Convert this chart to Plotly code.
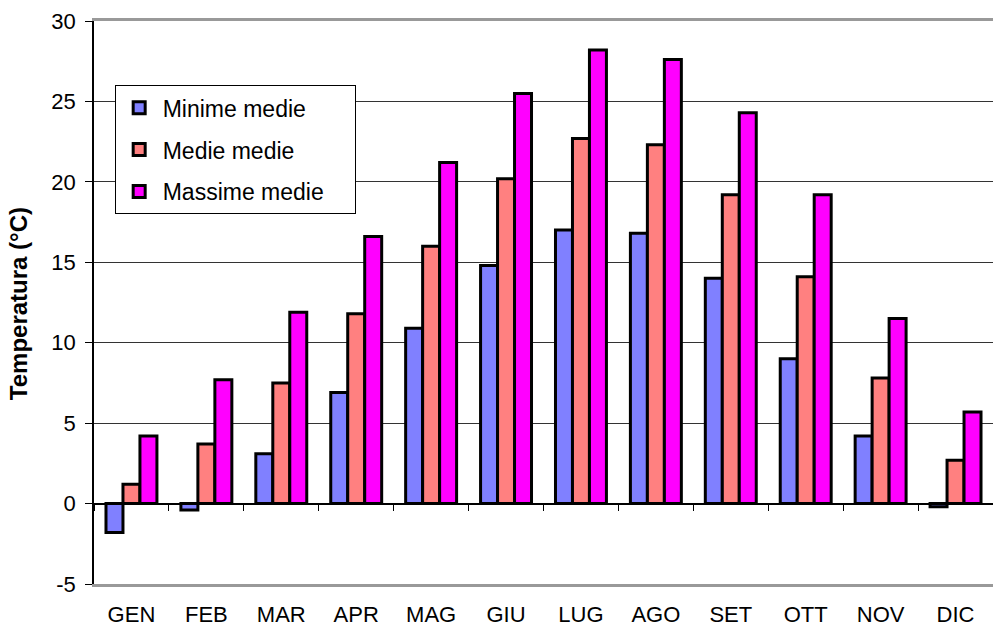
import plotly.graph_objects as go

months = ["GEN", "FEB", "MAR", "APR", "MAG", "GIU", "LUG", "AGO", "SET", "OTT", "NOV", "DIC"]
minime = [-1.8, -0.4, 3.1, 6.9, 10.9, 14.8, 17.0, 16.8, 14.0, 9.0, 4.2, -0.2]
medie = [1.2, 3.7, 7.5, 11.8, 16.0, 20.2, 22.7, 22.3, 19.2, 14.1, 7.8, 2.7]
massime = [4.2, 7.7, 11.9, 16.6, 21.2, 25.5, 28.2, 27.6, 24.3, 19.2, 11.5, 5.7]
series_names = ["Minime medie", "Medie medie", "Massime medie"]
colors = ["#8080FF", "#FF8080", "#FF00FF"]
y_ticks = [-5, 0, 5, 10, 15, 20, 25, 30]
y_tick_labels = ["-5", "0", "5", "10", "15", "20", "25", "30"]
y_range = [-5, 30]
y_title = "Temperatura (°C)"

fig = go.Figure()
for i, (name, vals, col) in enumerate(zip(series_names, [minime, medie, massime], colors)):
    fig.add_trace(go.Bar(
        x=months, y=vals, name=name + "\u00a0" * 4, legendgroup=f"g{i}",
        marker=dict(color=col, line=dict(color="black", width=3)),
    ))

# dummy trace carrying the tick marks on the zero line
fig.add_trace(go.Scatter(x=months, y=[None]*len(months), xaxis="x2", mode="lines",
                         showlegend=False, hoverinfo="skip"))

x_range = [-0.5, len(months) - 0.5]
font = "Liberation Sans, Arial, sans-serif"
fig.update_layout(
    width=993, height=628,
    margin=dict(l=94, r=0, t=21, b=44),
    paper_bgcolor="white", plot_bgcolor="white",
    barmode="group", bargap=0.32, bargroupgap=0,
    font=dict(family=font, size=22, color="black"),
    showlegend=True,
    legend=dict(
        x=0.023, y=0.886, xanchor="left", yanchor="top",
        bgcolor="white", bordercolor="black", borderwidth=1,
        font=dict(family=font, size=23, color="black"),
        tracegroupgap=9, itemwidth=37,
    ),
    xaxis=dict(
        type="category", range=x_range, showgrid=False, zeroline=False, automargin=False,
        showline=True, linecolor="#999999", linewidth=3, mirror=True,
        ticks="", tickfont=dict(size=22), ticklabelstandoff=9,
    ),
    xaxis2=dict(
        type="category", range=x_range, overlaying="x", anchor="free",
        position=(0 - y_range[0]) / (y_range[1] - y_range[0]),
        showticklabels=False, showline=False, showgrid=False, zeroline=False,
        ticks="outside", ticklen=6, tickcolor="black", tickwidth=1,
        tickson="boundaries", automargin=False,
    ),
    yaxis=dict(
        range=y_range, tickvals=y_ticks, ticktext=y_tick_labels, automargin=False,
        showgrid=True, gridcolor="#333333", gridwidth=1,
        zeroline=True, zerolinecolor="black", zerolinewidth=1.5,
        showline=True, linecolor="black", linewidth=1.5,
        ticks="outside", ticklen=7, tickcolor="black",
        tickfont=dict(size=22), ticklabelstandoff=5,
    ),
    annotations=[dict(
        text=f"<b>{y_title}</b>", textangle=-90,
        xref="paper", yref="paper", x=-76/899, y=0.497,
        xanchor="center", yanchor="middle", showarrow=False,
        font=dict(family=font, size=24, color="black"),
    )],
)

fig.write_html("out.html", config={"displayModeBar": False},
               post_script="document.body.style.margin='0px';document.body.style.overflow='hidden';")
